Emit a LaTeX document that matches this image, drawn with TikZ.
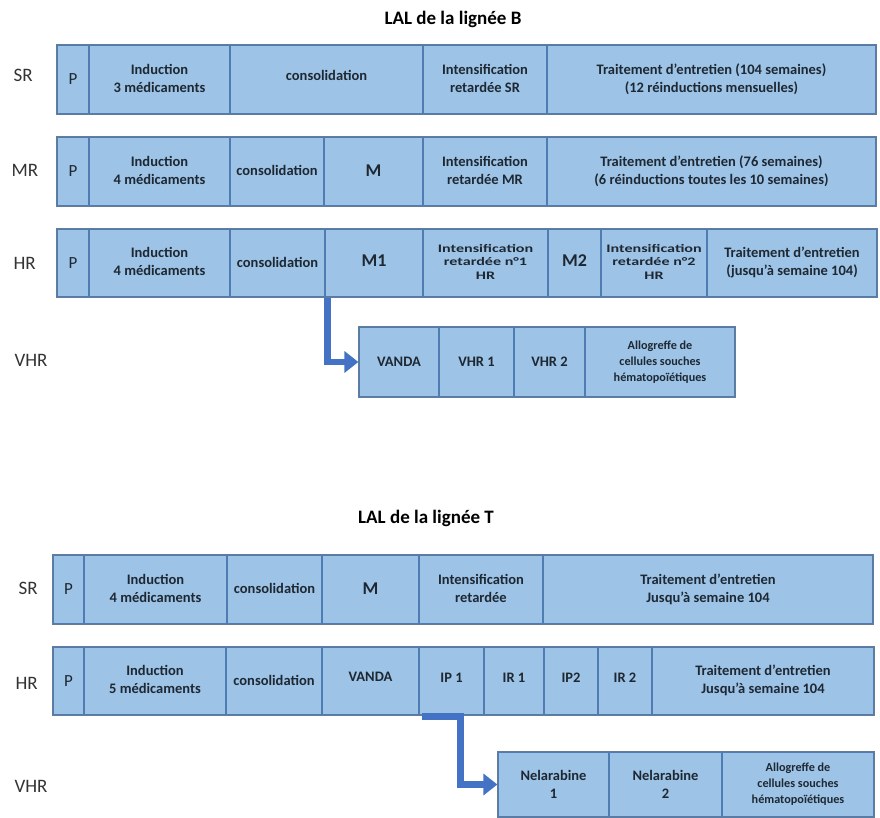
\documentclass[tikz,border=0pt]{standalone}
\usepackage{fontspec}
\setmainfont{Carlito}
\newfontfamily\widefont[FakeStretch=1.4]{Carlito}
\usetikzlibrary{arrows.meta,calc}
\definecolor{cellfill}{HTML}{9DC3E6}
\definecolor{celldraw}{HTML}{4F7CB3}
\definecolor{rowdraw}{HTML}{667C96}
\definecolor{arrowblue}{HTML}{4472C4}
\definecolor{txt}{HTML}{1E2833}
\definecolor{labtxt}{HTML}{333333}
\tikzset{
  cellst/.style={draw=celldraw, fill=cellfill, line width=1.2pt, inner sep=1pt, align=center, text=txt,
    font=\bfseries\fontsize{14.5}{18}\selectfont},
  rowlab/.style={anchor=west, text=labtxt, font=\fontsize{19}{22}\selectfont},
  ttl/.style={font=\bfseries\fontsize{19}{22}\selectfont, text=black},
  flow/.style={draw=arrowblue, line width=6.5pt, -{Triangle[length=14pt,width=21pt]}},
  bigtxt/.style={font=\bfseries\fontsize{18}{21}\selectfont},
  ptxt/.style={font=\fontsize{17}{20}\selectfont},
  widetxt/.style={font=\widefont\bfseries\fontsize{11.5}{13.5}\selectfont},
  allotxt/.style={font=\bfseries\fontsize{12.2}{16}\selectfont},
  rowline/.style={draw=rowdraw, line width=1.4pt},
}
\newcommand\cellnode[7][]{\node[cellst,#1,minimum width={#4pt-#3pt},minimum height={#6pt-#5pt}] (#2) at ({(#3+#4)/2},{(#5+#6)/2}) {#7};}
\newcommand\mls[2]{\raisebox{#1}{\begin{tabular}{@{}c@{}}#2\end{tabular}}}
\begin{document}
\begin{tikzpicture}[x=1pt,y=-1pt]
\useasboundingbox (0,0) rectangle (880,818);

% ---------- Lignée B ----------
\node[ttl] (titleB) at (453,19) {LAL de la lignée B};

% SR
\node[rowlab] (labBSR) at (10,75) {SR};
\cellnode[ptxt]{bsrP}{57}{89}{45}{114}{P}
\cellnode{bsrI}{89}{230}{45}{114}{\mls{1pt}{Induction\\3 médicaments}}
\cellnode{bsrC}{230}{423}{45}{114}{\raisebox{8pt}{consolidation}}
\cellnode{bsrR}{423}{547}{45}{114}{\mls{1pt}{Intensification\\retardée SR}}
\cellnode{bsrT}{547}{876}{45}{114}{\mls{1pt}{Traitement d’entretien (104 semaines)\\(12 réinductions mensuelles)}}
\draw[rowline] (bsrP.north west) rectangle (bsrT.south east);

% MR
\node[rowlab] (labBMR) at (8,170) {MR};
\cellnode[ptxt]{bmrP}{57}{89}{137}{206}{P}
\cellnode{bmrI}{89}{230}{137}{206}{\mls{5pt}{Induction\\4 médicaments}}
\cellnode{bmrC}{230}{324}{137}{206}{\raisebox{2pt}{consolidation}}
\cellnode[bigtxt]{bmrM}{324}{423}{137}{206}{\raisebox{2pt}{M}}
\cellnode{bmrR}{423}{547}{137}{206}{\mls{3pt}{Intensification\\retardée MR}}
\cellnode{bmrT}{547}{876}{137}{206}{\mls{3pt}{Traitement d’entretien (76 semaines)\\(6 réinductions toutes les 10 semaines)}}
\draw[rowline] (bmrP.north west) rectangle (bmrT.south east);

% HR
\node[rowlab] (labBHR) at (10,263) {HR};
\cellnode[ptxt]{bhrP}{57}{89}{229}{297}{P}
\cellnode{bhrI}{89}{230}{229}{297}{\mls{5pt}{Induction\\4 médicaments}}
\cellnode{bhrC}{230}{325}{229}{297}{\raisebox{2pt}{consolidation}}
\cellnode[bigtxt]{bhrMa}{325}{423}{229}{297}{\raisebox{4pt}{M1}}
\cellnode[widetxt]{bhrRa}{423}{548}{229}{297}{\mls{6pt}{Intensification\\retardée n°1\\HR}}
\cellnode[bigtxt]{bhrMb}{548}{601}{229}{297}{\raisebox{4pt}{M2}}
\cellnode[widetxt]{bhrRb}{601}{707}{229}{297}{\mls{6pt}{Intensification\\retardée n°2\\HR}}
\cellnode{bhrT}{707}{877}{229}{297}{\mls{3pt}{Traitement d’entretien\\(jusqu’à semaine 104)}}
\draw[rowline] (bhrP.north west) rectangle (bhrT.south east);

% VHR
\node[rowlab] (labBVHR) at (11,360) {VHR};
\cellnode{bvA}{359}{439}{327}{397}{VANDA}
\cellnode{bvB}{439}{514}{327}{397}{VHR 1}
\cellnode{bvC}{514}{585}{327}{397}{VHR 2}
\cellnode[allotxt]{bvD}{585}{735}{327}{397}{Allogreffe de\\cellules souches\\hématopoïétiques}
\draw[rowline] (bvA.north west) rectangle (bvD.south east);

\draw[flow] ($(bhrMa.south west)+(3,0)$) |- (bvA.west);

% ---------- Lignée T ----------
\node[ttl] (titleT) at (426,518) {LAL de la lignée T};

% SR
\node[rowlab] (labTSR) at (15,588) {SR};
\cellnode[ptxt]{tsrP}{53}{84}{555}{624}{P}
\cellnode{tsrI}{84}{227}{555}{624}{\mls{4pt}{Induction\\4 médicaments}}
\cellnode{tsrC}{227}{322}{555}{624}{\raisebox{2pt}{consolidation}}
\cellnode[bigtxt]{tsrM}{322}{419}{555}{624}{\raisebox{2pt}{M}}
\cellnode{tsrR}{419}{543}{555}{624}{\mls{4pt}{Intensification\\retardée}}
\cellnode{tsrT}{543}{873}{555}{624}{\mls{4pt}{Traitement d’entretien\\Jusqu’à semaine 104}}
\draw[rowline] (tsrP.north west) rectangle (tsrT.south east);

% HR
\node[rowlab] (labTHR) at (12,683) {HR};
\cellnode[ptxt]{thrP}{53}{84}{647}{715}{P}
\cellnode{thrI}{84}{226}{647}{715}{\mls{4pt}{Induction\\5 médicaments}}
\cellnode{thrC}{226}{322}{647}{715}{\raisebox{2pt}{consolidation}}
\cellnode{thrV}{322}{419}{647}{715}{\raisebox{8pt}{VANDA}}
\cellnode{thrIPa}{419}{484}{647}{715}{\raisebox{6pt}{IP 1}}
\cellnode{thrIRa}{484}{544}{647}{715}{\raisebox{6pt}{IR 1}}
\cellnode{thrIPb}{544}{598}{647}{715}{\raisebox{6pt}{IP2}}
\cellnode{thrIRb}{598}{652}{647}{715}{\raisebox{6pt}{IR 2}}
\cellnode{thrT}{652}{874}{647}{715}{\mls{3pt}{Traitement d’entretien\\Jusqu’à semaine 104}}
\draw[rowline] (thrP.north west) rectangle (thrT.south east);

% VHR
\node[rowlab] (labTVHR) at (11,786) {VHR};
\cellnode{tvA}{498}{609}{752}{817}{Nelarabine\\1}
\cellnode{tvB}{609}{722}{752}{817}{Nelarabine\\2}
\cellnode[allotxt]{tvC}{722}{874}{752}{817}{Allogreffe de\\cellules souches\\hématopoïétiques}
\draw[rowline] (tvA.north west) rectangle (tvC.south east);

\draw[flow] ($(thrIPa.south west)+(4,1)$) -- ++(38,0) |- (tvA.west);
\end{tikzpicture}
\end{document}
